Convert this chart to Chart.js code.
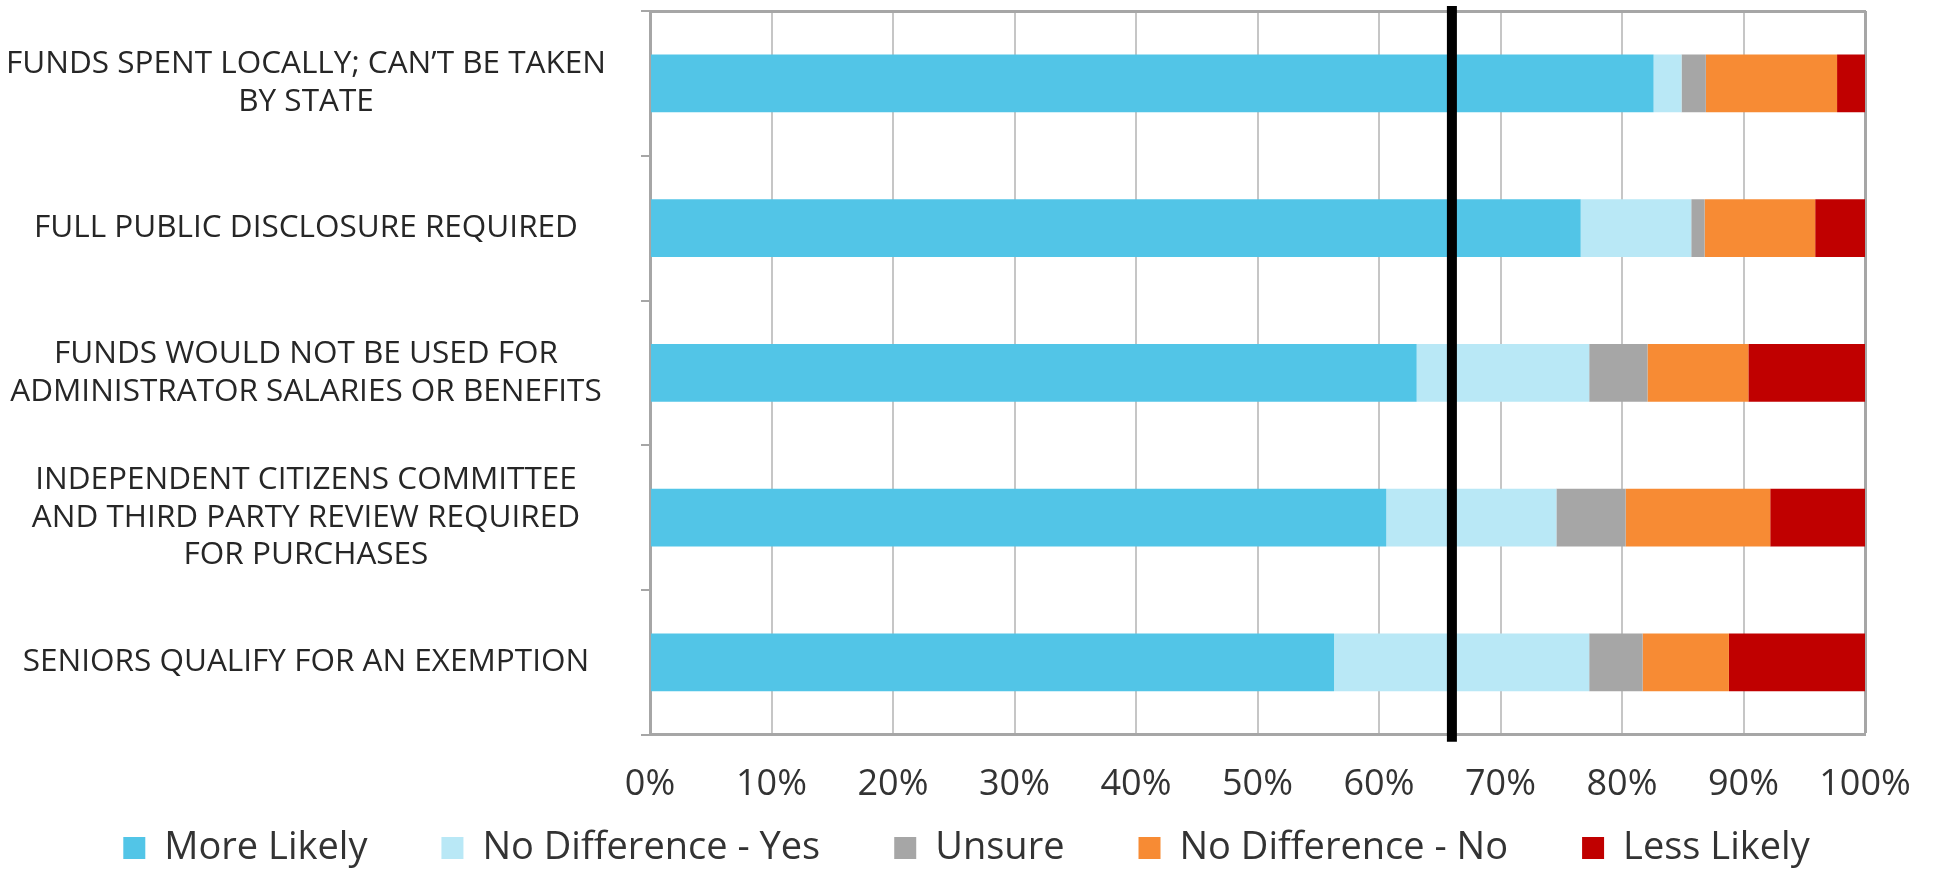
<!DOCTYPE html>
<html>
<head>
<meta charset="utf-8">
<script src="https://cdn.jsdelivr.net/npm/chart.js@4.4.1/dist/chart.umd.min.js"></script>
<style>
  html, body { margin: 0; padding: 0; background: #fff; }
  canvas { display: block; }
</style>
</head>
<body>
<canvas id="chart" width="1933" height="872"></canvas>
<script>
// categories, top to bottom
const categories = [
  ['FUNDS SPENT LOCALLY; CAN’T BE TAKEN', 'BY STATE'],
  'FULL PUBLIC DISCLOSURE REQUIRED',
  ['FUNDS WOULD NOT BE USED FOR', 'ADMINISTRATOR SALARIES OR BENEFITS'],
  ['INDEPENDENT CITIZENS COMMITTEE', 'AND THIRD PARTY REVIEW REQUIRED', 'FOR PURCHASES'],
  'SENIORS QUALIFY FOR AN EXEMPTION',
];

// shares in %
const moreLikely = [82.6, 76.6, 63.1, 60.6, 56.3];
const noDiffYes = [2.3, 9.1, 14.2, 14.0, 21.0];
const unsure = [2.0, 1.1, 4.8, 5.7, 4.4];
const noDiffNo = [10.8, 9.1, 8.3, 11.9, 7.1];
const lessLikely = [2.3, 4.1, 9.6, 7.8, 11.2];

const seriesNames = ['More Likely', 'No Difference - Yes', 'Unsure', 'No Difference - No', 'Less Likely'];
const seriesColors = ['#52C5E7', '#B9E8F6', '#A6A6A6', '#F78B34', '#C00000'];

const tickStep = 10;
const benchmark = 66;

const fontFamily = "'Open Sans', 'Noto Sans', sans-serif";

const benchmarkLine = {
  id: 'benchmarkLine',
  afterDatasetsDraw(chart) {
    const { ctx, chartArea, scales } = chart;
    const x = scales.x.getPixelForValue(benchmark);
    ctx.save();
    ctx.strokeStyle = '#000';
    ctx.lineWidth = 10;
    ctx.beginPath();
    ctx.moveTo(x, chartArea.top - 5);
    ctx.lineTo(x, chartArea.bottom + 7);
    ctx.stroke();
    ctx.restore();
  },
};

const values = [moreLikely, noDiffYes, unsure, noDiffNo, lessLikely];

new Chart(document.querySelector('#chart'), {
  type: 'bar',
  data: {
    labels: categories,
    datasets: values.map((data, i) => ({
      label: seriesNames[i],
      data: data,
      backgroundColor: seriesColors[i],
      borderWidth: 0,
      categoryPercentage: 1,
      barPercentage: 0.4,
    })),
  },
  options: {
    indexAxis: 'y',
    responsive: false,
    animation: false,
    layout: { padding: { left: 0, right: 0, top: 11, bottom: -5 } },
    scales: {
      x: {
        stacked: true,
        min: 0,
        max: 100,
        grid: {
          drawTicks: false,
          color: (ctx) => (ctx.tick && (ctx.tick.value === 100 || ctx.tick.value === 0) ? '#a6a6a6' : '#c6c6c6'),
          lineWidth: (ctx) => (ctx.tick && ctx.tick.value === 100 ? 3 : 2),
        },
        border: { color: '#a6a6a6', width: 3 },
        ticks: {
          stepSize: tickStep,
          padding: 28,
          maxRotation: 0,
          autoSkip: false,
          color: '#333',
          font: { family: fontFamily, size: 36 },
          callback: (v) => v + '%',
        },
        afterFit: (scale) => {
          scale.height = 71.5;
          scale.paddingLeft = 0;
          scale.paddingRight = 68;
        },
      },
      x2: {
        position: 'top',
        min: 0,
        max: 100,
        grid: { drawOnChartArea: false, drawTicks: false },
        border: { color: '#a6a6a6', width: 3 },
        ticks: { display: false },
      },
      y: {
        stacked: true,
        grid: { drawOnChartArea: false, drawTicks: true, tickLength: 9, color: '#a6a6a6', lineWidth: 2 },
        border: { color: '#a6a6a6', width: 3 },
        ticks: {
          crossAlign: 'center',
          padding: 35,
          color: '#262626',
          font: { family: fontFamily, size: 31.5, lineHeight: 1.2 },
        },
        afterFit: (scale) => {
          scale.width = 650;
          scale.paddingTop = 0;
          scale.paddingBottom = 0;
        },
      },
    },
    plugins: {
      legend: {
        position: 'bottom',
        // empty title with negative padding pulls the legend row up
        title: { display: true, text: '', font: { size: 1 }, padding: { top: -52.5, bottom: 0 } },
        labels: {
          boxWidth: 22,
          boxHeight: 22,
          padding: 74,
          color: '#333',
          font: { family: fontFamily, size: 38 },
        },
      },
      tooltip: { enabled: false },
    },
  },
  plugins: [benchmarkLine],
});
</script>
</body>
</html>
